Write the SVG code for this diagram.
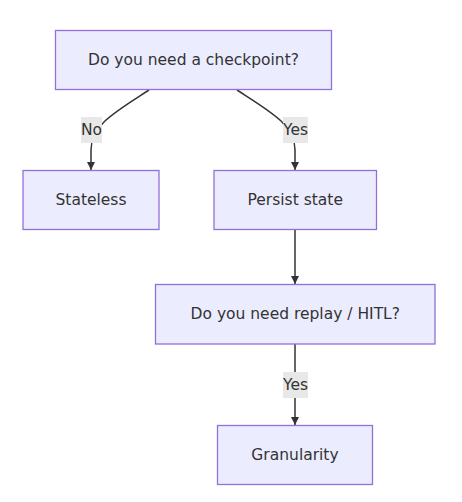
<svg xmlns="http://www.w3.org/2000/svg" width="462" height="502" viewBox="0 0 462 502">
<style>
.node rect{fill:#ECECFF;stroke:#9370DB;stroke-width:1.3px}
text{font-family:"DejaVu Sans","Liberation Sans",sans-serif;font-size:15.5px;fill:#333333;text-anchor:middle;dominant-baseline:central}
.edge{fill:none;stroke:#333333;stroke-width:1.5px}
.lbl{fill:#e8e8e8}
</style>
<defs>
<marker id="arr" viewBox="0 0 10 10" refX="10" refY="5" markerWidth="8" markerHeight="8" markerUnits="userSpaceOnUse" orient="auto">
<path d="M0,0 L10,5 L0,10 z" fill="#333333"/>
</marker>
</defs>
<rect width="462" height="502" fill="#ffffff"/>
<g id="edges">
<path class="edge" d="M149,90 C115,112 91,125 91,150 L91,170" marker-end="url(#arr)"/>
<path class="edge" d="M237,90 C271,112 295,125 295,150 L295,170" marker-end="url(#arr)"/>
<path class="edge" d="M295,230 L295,284" marker-end="url(#arr)"/>
<path class="edge" d="M295,344 L295,425" marker-end="url(#arr)"/>
<g id="edge-labels">
<rect class="lbl" x="81" y="117" width="21" height="26"/>
<text x="91.5" y="130">No</text>
<rect class="lbl" x="283" y="117" width="25" height="26"/>
<text x="295.5" y="130">Yes</text>
<rect class="lbl" x="283" y="372" width="25" height="26"/>
<text x="295.5" y="385">Yes</text>
</g>
</g>
<g id="A" class="node"><rect x="55.5" y="30.5" width="276" height="59"/><text x="193.5" y="60">Do you need a checkpoint?</text></g>
<g id="B" class="node"><rect x="23" y="170.5" width="136" height="59"/><text x="91" y="200">Stateless</text></g>
<g id="C" class="node"><rect x="214" y="170.5" width="162.5" height="59"/><text x="295.25" y="200">Persist state</text></g>
<g id="D" class="node"><rect x="155.5" y="284.5" width="279.5" height="59.5"/><text x="295.25" y="314">Do you need replay / HITL?</text></g>
<g id="E" class="node"><rect x="217.5" y="425.5" width="155" height="59"/><text x="295" y="455">Granularity</text></g>
</svg>
